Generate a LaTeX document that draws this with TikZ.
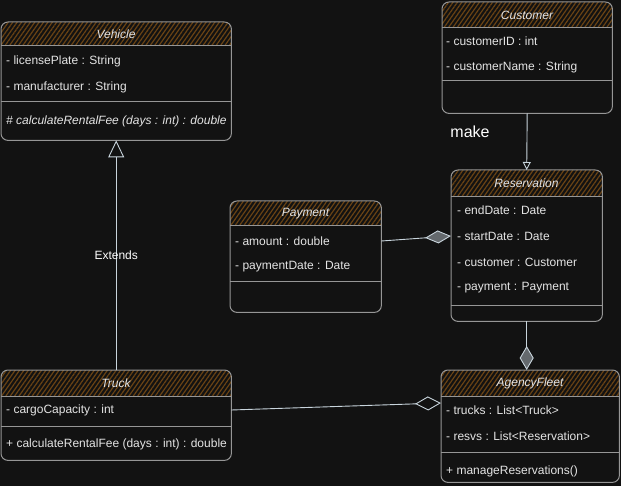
\documentclass[tikz,border=0pt]{standalone}
\usepackage{fontspec}
\setmainfont{Liberation Sans}
\usetikzlibrary{arrows.meta,patterns.meta}

\definecolor{bgdark}{HTML}{121212}
\definecolor{edgegray}{HTML}{969696}
\definecolor{hatchbrown}{HTML}{6A4314}
\definecolor{textlight}{HTML}{E4E4E4}
\definecolor{linkblue}{HTML}{C8D4DC}

\tikzset{
  classedge/.style={draw=edgegray, line width=1pt, rounded corners=7pt},
  rule/.style={draw=edgegray, line width=1pt},
  header/.style={pattern={Lines[angle=55,distance=3.6pt,line width=1.2pt]}, pattern color=hatchbrown},
  member/.style={anchor=west, text=textlight, font=\fontsize{12}{14}\selectfont, inner sep=0pt},
  title/.style={text=textlight, font=\fontsize{12}{14}\selectfont\itshape, inner sep=0pt},
  link/.style={draw=linkblue, line width=0.9pt},
  linklabel/.style={text=white, inner sep=0pt},
}

\begin{document}
\begin{tikzpicture}[x=1pt, y=-1pt]
  \fill[bgdark] (0,0) rectangle (621,486);
  \useasboundingbox (0,0) rectangle (621,486);

  % class boxes: name/left/top/right/bottom/header line/separator/title
  \foreach \nm/\xa/\ya/\xb/\yb/\yh/\ys/\ttl in {
      vehicle/1/22/231/140/46/102/Vehicle,
      customer/442/2/612/113/28/81/Customer,
      payment/230/201/381/312/226/282/Payment,
      reservation/451/170/602/321/197/306/Reservation,
      truck/1/370/231/460/396/426/Truck,
      fleet/441/370/619/482/396/452/AgencyFleet} {
    \node[anchor=north west, inner sep=0pt, minimum width={(\xb-\xa)*1pt},
          minimum height={(\yb-\ya)*1pt}] (\nm) at (\xa,\ya) {};
    \begin{scope}
      \clip[rounded corners=7pt] (\nm.north west) rectangle (\nm.south east);
      \fill[header] (\nm.north west) rectangle (\xb,\yh);
    \end{scope}
    \draw[rule] (\xa,\yh) -- (\xb,\yh);
    \draw[rule] (\xa,\ys) -- (\xb,\ys);
    \draw[classedge] (\nm.north west) rectangle (\nm.south east);
    \node[title] (\nm-title) at ({(\xa+\xb)/2},{(\ya+\yh)/2}) {\ttl};
  };

  % members
  \foreach \t [count=\i] in {- licensePlate : String, - manufacturer : String}
    \node[member] (vehicle-a\i) at (6,{35+26*\i}) {\t};
  \node[member, font=\fontsize{12}{14}\selectfont\itshape] (vehicle-m1) at (6,121)
    {\# calculateRentalFee (days : int) : double};

  \foreach \t [count=\i] in {- customerID : int, - customerName : String}
    \node[member] (customer-a\i) at (446,{15+26*\i}) {\t};

  \foreach \t [count=\i] in {- amount : double, - paymentDate : Date}
    \node[member] (payment-a\i) at (235,{215+26*\i}) {\t};

  \foreach \t [count=\i] in {- endDate : Date, - startDate : Date,
                             - customer : Customer, - payment : Payment}
    \node[member] (reservation-a\i) at (457,{184+26*\i}) {\t};

  \node[member] (truck-a1) at (6,410) {- cargoCapacity : int};
  \node[member] (truck-m1) at (6,444) {+ calculateRentalFee (days : int) : double};

  \foreach \t [count=\i] in {- trucks : List<Truck>, - resvs : List<Reservation>}
    \node[member] (fleet-a\i) at (446,{384+26*\i}) {\t};
  \node[member] (fleet-m1) at (446,471) {+ manageReservations()};

  % relations
  \draw[link, -{Triangle[open, length=17pt, width=16pt]}] (truck.north) -- (vehicle.south)
    node[linklabel, pos=0.5, font=\fontsize{12}{14}\selectfont] {Extends};

  \draw[link, -{Triangle[open, length=8pt, width=8pt]}] (customer.south) -- (reservation.north)
    node[linklabel, pos=0.32, left=37pt, font=\fontsize{16}{18}\selectfont] {make};

  \draw[link, -{Diamond[length=26pt, width=13pt, fill=linkblue!45!bgdark]}]
    (payment.east |- payment-a1) -- (reservation.west |- reservation-a2);

  \draw[link, -{Diamond[length=24pt, width=14pt, fill=linkblue!45!bgdark]}]
    (reservation.south) -- (reservation.south |- fleet.north);

  \draw[link, -{Diamond[open, length=26pt, width=14pt]}]
    (truck.east |- truck-a1) -- ([yshift=7pt]fleet.west |- fleet-a1);
\end{tikzpicture}
\end{document}
